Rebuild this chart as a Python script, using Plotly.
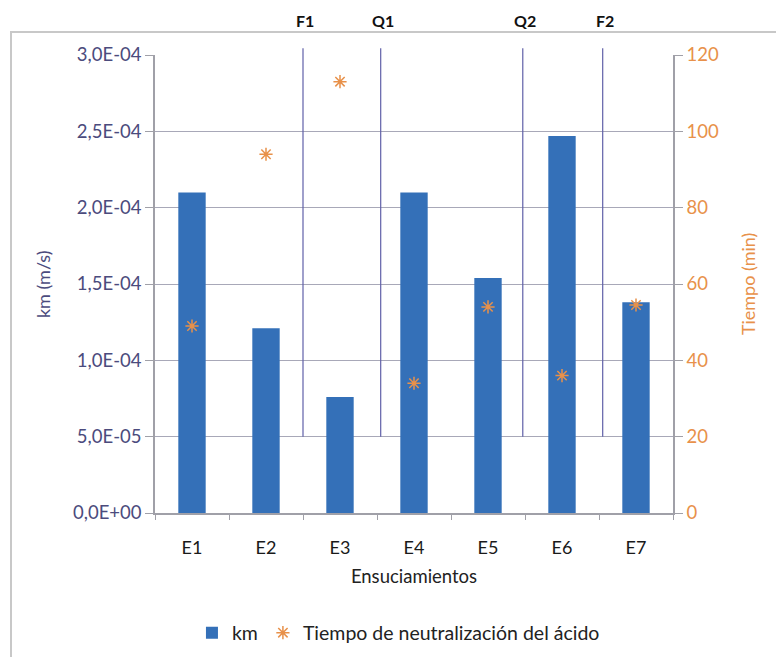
import plotly.graph_objects as go

categories = ["E1", "E2", "E3", "E4", "E5", "E6", "E7"]
km = [2.10e-4, 1.21e-4, 7.6e-5, 2.10e-4, 1.54e-4, 2.47e-4, 1.38e-4]
tiempo = [49, 94, 113, 34, 54, 36, 54.5]

event_labels = ["F1", "Q1", "Q2", "F2"]
event_pos = [1.5, 2.55, 4.47, 5.55]
event_bottom = 5e-5

left_tickvals = [0, 5e-5, 1e-4, 1.5e-4, 2e-4, 2.5e-4, 3e-4]
left_ticktext = ["0,0E+00", "5,0E-05", "1,0E-04", "1,5E-04", "2,0E-04", "2,5E-04", "3,0E-04"]
right_tickvals = [0, 20, 40, 60, 80, 100, 120]

y_max = 3e-4
FONT = "Lato"
BLUE = "#3470B8"
ORANGE = "#E8914A"
LEFTCOL = "#4B4B7D"
GRID = "#A8A8B8"
AXIS = "#A0A0A8"

fig = go.Figure()
fig.add_trace(go.Bar(
    x=categories, y=km, name="km", width=0.37,
    marker=dict(color=BLUE, line=dict(width=0)), yaxis="y"))
fig.add_trace(go.Scatter(
    x=categories, y=tiempo, name="Tiempo de neutralización del ácido",
    mode="markers", yaxis="y2",
    marker=dict(symbol="asterisk-open", size=11, color=ORANGE,
                line=dict(color=ORANGE, width=1.5))))

shapes = []
annotations = []
for lab, pos in zip(event_labels, event_pos):
    shapes.append(dict(type="line", xref="x", yref="paper",
                       x0=pos, x1=pos, y0=event_bottom / y_max, y1=1.015,
                       line=dict(color="#6060A8", width=1.2)))
    annotations.append(dict(text="<b>%s</b>" % lab, xref="x", yref="paper",
                            x=pos, y=1.076, xanchor="center", yanchor="middle",
                            showarrow=False, xshift=2,
                            font=dict(family=FONT, size=16, color="#111111")))

# outer frame
shapes.append(dict(type="rect", xref="paper", yref="paper",
                   x0=-0.278, x1=1.35, y0=-0.5, y1=1.050,
                   line=dict(color="#C8C8C8", width=2), layer="below"))

annotations.append(dict(text="km (m/s)", xref="paper", yref="paper",
                        x=-0.216, y=0.5, xanchor="center", yanchor="middle",
                        textangle=-90, showarrow=False,
                        font=dict(family=FONT, size=18, color=LEFTCOL)))
annotations.append(dict(text="Tiempo (min)", xref="paper", yref="paper",
                        x=1.145, y=0.5, xanchor="center", yanchor="middle",
                        textangle=-90, showarrow=False,
                        font=dict(family=FONT, size=18, color=ORANGE)))

fig.update_layout(
    width=776, height=657,
    margin=dict(l=155, r=103, t=55, b=144, autoexpand=False),
    paper_bgcolor="white", plot_bgcolor="white",
    font=dict(family=FONT, size=17),
    showlegend=True,
    legend=dict(orientation="h", x=0.47, xanchor="center", y=-0.262, yanchor="middle",
                font=dict(family=FONT, size=19.5, color="#222222"),
                itemwidth=30, traceorder="normal"),
    xaxis=dict(type="category", showline=True, linecolor=AXIS, linewidth=1.5,
               automargin=False,
               ticks="outside", tickson="boundaries", ticklen=5, tickcolor=AXIS,
               ticklabelstandoff=18,
               tickfont=dict(family=FONT, size=18, color="#1A1A1A"),
               title=dict(text="Ensuciamientos", standoff=13,
                          font=dict(family=FONT, size=18.5, color="#222222")),
               showgrid=False, range=[-0.5, 6.5]),
    yaxis=dict(range=[0, y_max], tickvals=left_tickvals, ticktext=left_ticktext,
               automargin=False,
               showline=True, linecolor=AXIS, linewidth=1.5,
               ticks="outside", ticklen=8, tickcolor=AXIS,
               showgrid=True, gridcolor=GRID, gridwidth=1.2,
               zeroline=False,
               tickfont=dict(family=FONT, size=18.5, color=LEFTCOL)),
    yaxis2=dict(range=[0, 120], tickvals=right_tickvals, overlaying="y", side="right",
                automargin=False,
                showline=True, linecolor=AXIS, linewidth=1.5,
                ticks="outside", ticklen=8, tickcolor=AXIS,
                showgrid=False, zeroline=False,
                tickfont=dict(family=FONT, size=18.5, color=ORANGE)),
    shapes=shapes, annotations=annotations,
)

fig.write_html("out.html")
